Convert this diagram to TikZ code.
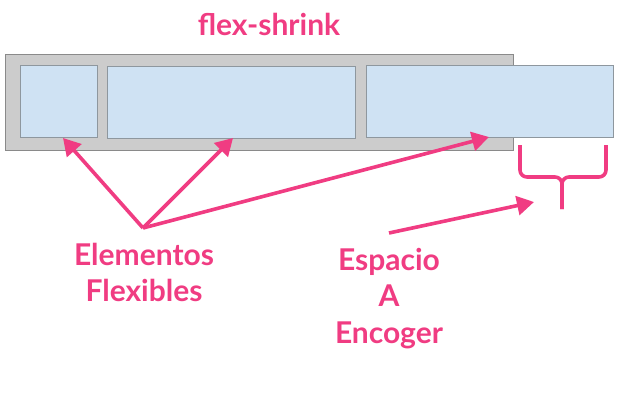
\documentclass[tikz,border=0pt]{standalone}
\usepackage{fontspec}
\setmainfont{Lato}
\usepackage{tikz}
\usetikzlibrary{positioning, arrows.meta}
\definecolor{flexpink}{HTML}{F03C82}
\definecolor{itemblue}{HTML}{CFE2F3}
\definecolor{itemline}{HTML}{8E979E}
\definecolor{boxgray}{HTML}{CCCCCC}
\definecolor{boxline}{HTML}{8A8A8A}

\begin{document}
\begin{tikzpicture}[x=1pt, y=-1pt,
  container/.style={draw=boxline, fill=boxgray, line width=1.2pt, inner sep=0pt, anchor=north west, minimum width=508pt, minimum height=96pt},
  item/.style={draw=itemline, fill=itemblue, line width=1.2pt, inner sep=0pt, anchor=north west, minimum height=72pt},
  lbl/.style={text=flexpink, font=\bfseries\fontsize{30}{36.5}\selectfont, align=center, inner sep=0pt},
  arrow/.style={-{Triangle[length=17pt, width=19pt]}, draw=flexpink, fill=flexpink, line width=3.6pt},
  brace/.style={draw=flexpink, line width=3.6pt, rounded corners=7pt}]

  \useasboundingbox (0,0) rectangle (622,400);

  \node[lbl, anchor=base] (title) at (269,35) {flex-shrink};

  \node[container] (flexbox) at (5,54) {};
  \node[item, minimum width=77pt] (item1) at (20,65) {};
  \node[item, minimum width=248pt] (item2) at (107,66) {};
  \node[item, minimum width=247pt] (item3) at (366,65) {};

  \node[lbl, anchor=north] (elems) at (144,243) {Elementos\\Flexibles};
  \node[lbl, anchor=north] (space) at (389,248) {Espacio\\A\\Encoger};

  \coordinate (fan) at (143,228);
  \coordinate (tip1) at (63,138);
  \coordinate (tip2) at (233,138);
  \coordinate (tip3) at (489,137);
  \coordinate (gapstart) at (389,233);
  \coordinate (gaptip) at (534,202);

  % arrows to the items
  \draw[arrow] (fan) -- (tip1);
  \draw[arrow] (fan) -- (tip2);
  \draw[arrow] (fan) -- (tip3);
  \draw[arrow] (gapstart) -- (gaptip);

  % brace under the overflow
  \draw[brace] (520,145) -- (520,177) -- (562,177) -- (562,209);
  \draw[brace] (606,145) -- (606,177) -- (562,177) -- (562,209);
\end{tikzpicture}
\end{document}
